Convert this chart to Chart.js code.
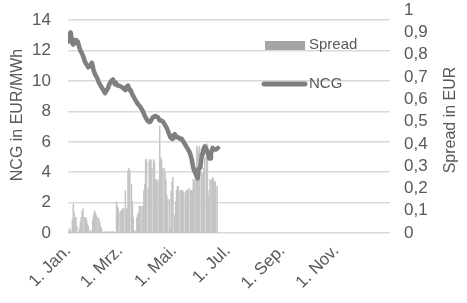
<!DOCTYPE html>
<html>
<head>
<meta charset="utf-8">
<script src="https://cdn.jsdelivr.net/npm/chart.js@4.4.1/dist/chart.umd.min.js"></script>
<style>
  html, body { margin: 0; padding: 0; background: #fff; }
  #wrap { width: 467px; height: 303px; }
</style>
</head>
<body>
<div id="wrap"><canvas id="chart" width="467" height="303"></canvas></div>
<script>
// x axis: day of year, labels at month starts
const monthDays = [0, 59, 120, 181, 243, 304];
const monthLabels = ['1. Jan.', '1. Mrz.', '1. Mai.', '1. Jul.', '1. Sep.', '1. Nov.'];

// NCG price (EUR/MWh), left axis
const ncgDays = [0, 1, 3, 5, 6, 8, 9, 11, 12, 14, 16, 18, 19, 21, 23, 25, 27, 28, 29, 31,
  33, 35, 37, 39, 41, 42, 44, 45, 47, 49, 51, 53, 54, 56, 58, 61, 63, 65, 66, 68,
  70, 71, 73, 74, 76, 79, 82, 85, 87, 90, 92, 93, 95, 96, 99, 102, 104, 106, 108, 110,
  112, 114, 116, 118, 119, 121, 123, 125, 127, 129, 130, 132, 135, 137, 138, 140, 142, 143, 144, 146,
  147, 148, 150, 151, 152, 153, 155, 157, 159, 160, 161, 162, 164, 166, 168, 170];
const ncgValues = [12.6, 13.0, 13.2, 12.5, 12.4, 12.7, 12.5, 12.6, 12.4, 12.0, 11.8, 11.5, 11.3, 11.1, 10.9, 11.0, 11.2, 11.0, 10.7, 10.4,
  10.2, 9.9, 9.7, 9.5, 9.3, 9.2, 9.4, 9.5, 9.8, 10.0, 10.1, 9.8, 9.9, 9.7, 9.7, 9.6, 9.5, 9.4, 9.6, 9.7,
  9.4, 9.4, 9.1, 9.0, 8.8, 8.5, 8.3, 8.0, 7.7, 7.4, 7.3, 7.3, 7.5, 7.6, 7.7, 7.6, 7.4, 7.4, 7.3, 7.1,
  6.9, 6.6, 6.3, 6.2, 6.4, 6.5, 6.3, 6.3, 6.2, 6.2, 6.1, 5.9, 5.6, 5.4, 5.3, 4.9, 4.3, 4.1, 4.0, 3.7,
  3.6, 4.2, 4.3, 4.8, 5.2, 5.4, 5.7, 5.5, 5.2, 4.9, 4.9, 5.2, 5.6, 5.5, 5.5, 5.6];

// Spread (EUR), right axis, one value per day from 1. Jan.
const spreadValues = [
  0.005, 0.01, 0.02, 0.01, 0, 0.06, 0.13, 0.09, 0.07, 0.07,
  0.03, 0, 0, 0.02, 0.05, 0.07, 0.1, 0.11, 0, 0.07,
  0.07, 0.06, 0.04, 0.03, 0, 0.01, 0.01, 0, 0.06, 0.08,
  0.1, 0.09, 0.08, 0, 0.07, 0.06, 0.05, 0.03, 0.02, 0,
  0.005, 0.005, 0, 0.005, 0.005, 0.005, 0.005, 0, 0.005, 0.005,
  0.005, 0.005, 0.005, 0, 0, 0.14, 0.12, 0.11, 0, 0.09,
  0.1, 0.1, 0.11, 0.11, 0, 0.19, 0.1, 0.11, 0.28, 0.29,
  0.28, 0, 0.22, 0.14, 0.07, 0.01, 0.01, 0, 0.07, 0.08,
  0.09, 0.12, 0.12, 0, 0.12, 0.12, 0.19, 0.22, 0.33, 0.33,
  0, 0.2, 0.32, 0.33, 0.33, 0.29, 0, 0.33, 0.32, 0.24,
  0.24, 0.23, 0, 0.24, 0.48, 0.34, 0.33, 0.29, 0, 0.29,
  0.27, 0.24, 0.17, 0.15, 0, 0.15, 0.02, 0.19, 0.23, 0.25,
  0, 0.08, 0.14, 0.19, 0.21, 0.21, 0, 0.19, 0.19, 0.19,
  0.19, 0.18, 0, 0.18, 0.19, 0.19, 0.19, 0.2, 0, 0.19,
  0.19, 0.19, 0.24, 0.24, 0, 0.29, 0.39, 0.38, 0.36, 0.39,
  0, 0.27, 0.26, 0.27, 0.29, 0.34, 0, 0.36, 0.4, 0.16,
  0.19, 0.24, 0, 0.24, 0.25, 0.24, 0.23, 0.23, 0, 0.21];

const textColor = '#595959';
const gridColor = '#d9d9d9';
const lineColor = '#7f7f7f';
const barColor = '#c4c4c4';
const legendBarColor = '#a5a5a5';
const fontFamily = '"Liberation Sans", Arial, sans-serif';

// axis titles and the legend sit inside/around the plot, drawn by hand
const extrasPlugin = {
  id: 'extras',
  afterDraw(chart) {
    const ctx = chart.ctx;
    ctx.save();
    ctx.fillStyle = textColor;
    ctx.font = '16px ' + fontFamily;
    ctx.textAlign = 'center';
    ctx.textBaseline = 'middle';

    ctx.save();
    ctx.translate(18, 115);
    ctx.rotate(-Math.PI / 2);
    ctx.fillText('NCG in EUR/MWh', 0, 0);
    ctx.restore();

    ctx.save();
    ctx.translate(451, 120);
    ctx.rotate(-Math.PI / 2);
    ctx.fillText('Spread in EUR', 0, 0);
    ctx.restore();

    // legend
    ctx.font = '15px ' + fontFamily;
    ctx.textAlign = 'left';
    ctx.fillStyle = legendBarColor;
    ctx.fillRect(265, 41, 40, 9);
    ctx.fillStyle = textColor;
    ctx.fillText(chart.data.datasets[1].label, 309, 45);

    ctx.strokeStyle = lineColor;
    ctx.lineWidth = 5;
    ctx.lineCap = 'round';
    ctx.beginPath();
    ctx.moveTo(264, 84);
    ctx.lineTo(305, 84);
    ctx.stroke();
    ctx.fillText(chart.data.datasets[0].label, 309, 84);
    ctx.restore();
  }
};

const hiddenTick = 'rgba(0,0,0,0)';

const ctx = document.getElementById('chart').getContext('2d');
const chart = new Chart(ctx, {
  data: {
    datasets: [{
      type: 'line',
      label: 'NCG',
      data: ncgDays.map((d, i) => ({ x: d, y: ncgValues[i] })),
      yAxisID: 'y',
      borderColor: lineColor,
      borderWidth: 4.5,
      borderCapStyle: 'round',
      borderJoinStyle: 'round',
      pointRadius: 0,
      tension: 0,
      order: 0
    }, {
      type: 'bar',
      label: 'Spread',
      data: spreadValues.map((v, i) => ({ x: i, y: v })),
      yAxisID: 'y1',
      backgroundColor: barColor,
      barPercentage: 1,
      categoryPercentage: 1,
      order: 1
    }]
  },
  options: {
    responsive: false,
    animation: false,
    devicePixelRatio: 1,
    layout: { padding: 0 },
    plugins: {
      legend: { display: false },
      tooltip: { enabled: false }
    },
    scales: {
      x: {
        type: 'linear',
        min: 0,
        max: 365,
        offset: false,
        afterBuildTicks: (scale) => { scale.ticks = monthDays.map(v => ({ value: v })); },
        afterFit: (scale) => { scale.height = 70; },
        grid: { display: false, offset: false },
        border: { display: false },
        ticks: {
          autoSkip: false,
          minRotation: 45,
          maxRotation: 45,
          padding: 0,
          color: textColor,
          font: { family: fontFamily, size: 17 },
          callback: (v, i) => monthLabels[i]
        }
      },
      y: {
        position: 'left',
        min: 0,
        max: 14.66,
        afterFit: (scale) => { scale.width = 68; },
        grid: { color: gridColor, lineWidth: 1.5, drawTicks: true, tickLength: 17, tickColor: hiddenTick },
        border: { display: false },
        ticks: {
          stepSize: 2,
          includeBounds: false,
          padding: 0,
          color: textColor,
          font: { family: fontFamily, size: 17 }
        }
      },
      y1: {
        position: 'right',
        min: 0,
        max: 1,
        afterFit: (scale) => { scale.width = 77; },
        grid: { display: false, drawTicks: true, tickLength: 14, tickColor: hiddenTick },
        border: { display: false },
        ticks: {
          stepSize: 0.1,
          autoSkip: false,
          padding: 0,
          color: textColor,
          font: { family: fontFamily, size: 17 },
          callback: (v) => String(Math.round(v * 10) / 10).replace('.', ',')
        }
      }
    }
  },
  plugins: [extrasPlugin]
});
</script>
</body>
</html>
